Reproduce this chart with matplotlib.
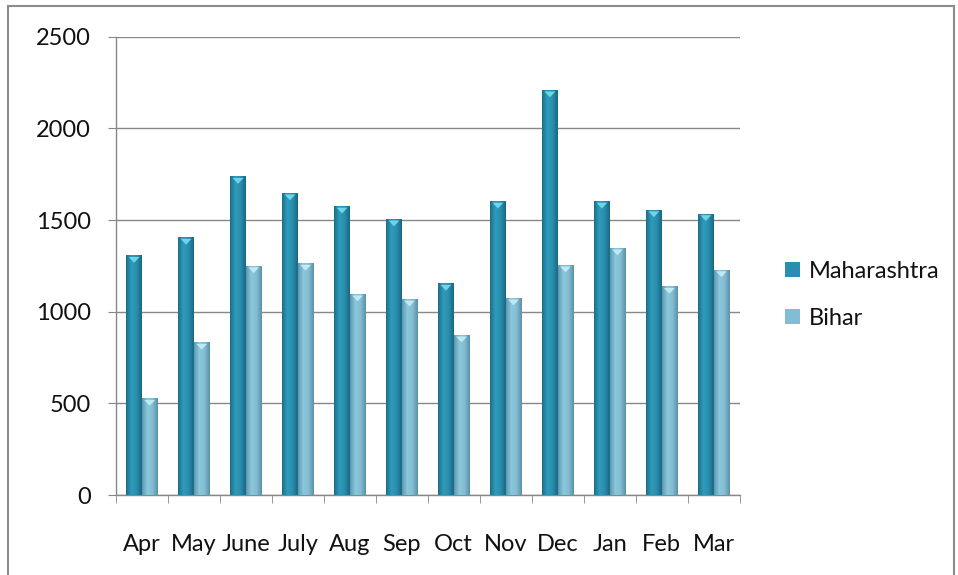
import numpy as np
import matplotlib
matplotlib.use("Agg")
import matplotlib.pyplot as plt
from matplotlib.patches import Rectangle, Polygon
from matplotlib.colors import LinearSegmentedColormap

months = ["Apr", "May", "June", "July", "Aug", "Sep", "Oct", "Nov", "Dec", "Jan", "Feb", "Mar"]
maharashtra = [1307, 1406, 1738, 1648, 1576, 1506, 1155, 1603, 2210, 1603, 1556, 1535]
bihar = [527, 833, 1251, 1264, 1097, 1069, 873, 1075, 1255, 1348, 1138, 1229]

plt.rcParams['font.family'] = ['Lato', 'DejaVu Sans']

fig = plt.figure(figsize=(9.58, 5.75), dpi=100)
ax = fig.add_axes([0.121, 0.139, 0.651, 0.797])

x = np.arange(len(months))
w = 0.3

dark_cmap = LinearSegmentedColormap.from_list("d", ["#1b6f88", "#2f9bbb", "#2a8fae", "#1a6680"])
light_cmap = LinearSegmentedColormap.from_list("l", ["#5a9ab2", "#8cc7dc", "#82bdd3", "#5d90a6"])
grad = np.linspace(0, 1, 64).reshape(1, -1)

bars_m = ax.bar(x - w / 2, maharashtra, w, color="#2a8fae", zorder=3, label="Maharashtra")
bars_b = ax.bar(x + w / 2, bihar, w, color="#82bdd3", zorder=3, label="Bihar")

# fake the excel bevel look: gradient fill + small light triangle on top
for bars, cmap, tip in [(bars_m, dark_cmap, "#6fd3ec"), (bars_b, light_cmap, "#bfe9f5")]:
    for b in bars:
        bx, bw, bh = b.get_x(), b.get_width(), b.get_height()
        im = ax.imshow(grad, cmap=cmap, aspect="auto", extent=[bx, bx + bw, 0, bh], zorder=4)
        im.set_clip_path(b)
        tri = Polygon([[bx + bw * 0.15, bh - 8], [bx + bw * 0.85, bh - 8], [bx + bw / 2, bh - 40]],
                      closed=True, color=tip, zorder=5, lw=0)
        ax.add_patch(tri)

ax.set_xlim(-0.5, len(months) - 0.5)
ax.set_ylim(0, 2500)
ax.set_yticks(range(0, 2501, 500))
ax.set_xticks(x)
ax.set_xticklabels(months)
ax.set_xticks(np.arange(-0.5, len(months), 1), minor=True)

ax.tick_params(axis="y", labelsize=17, length=6, color="#888888", pad=12, labelcolor="#111111")
ax.tick_params(axis="x", which="major", labelsize=17, length=0, pad=28, labelcolor="#111111")
ax.tick_params(axis="x", which="minor", length=6, color="#888888")

ax.grid(axis="y", color="#888888", linewidth=1, zorder=0)
ax.set_axisbelow(True)
for s in ["top", "right"]:
    ax.spines[s].set_visible(False)
for s in ["left", "bottom"]:
    ax.spines[s].set_color("#888888")
    ax.spines[s].set_linewidth(1)

ax.legend(loc="center left", bbox_to_anchor=(1.038, 0.437), frameon=False, fontsize=17,
          handlelength=0.65, handleheight=0.65, labelspacing=1.1, handletextpad=0.4,
          labelcolor="#111111")

fig.patches.append(Rectangle((8 / 958, -0.01), 946 / 958, 1 - 6 / 575 + 0.01, transform=fig.transFigure,
                             fill=False, edgecolor="#8c8c8c", linewidth=1.5))

fig.savefig("out.png", dpi=100)
